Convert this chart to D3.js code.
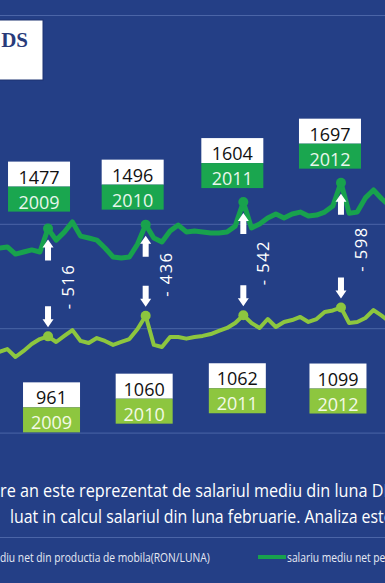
<!DOCTYPE html>
<html><head><meta charset="utf-8">
<script src="https://cdn.jsdelivr.net/npm/d3@7/dist/d3.min.js"></script>
<style>html,body{margin:0;padding:0;overflow:hidden;background:#243F86}svg{display:block}</style>
</head><body>
<script>
// ---------------- data ----------------
const months = ["2009-06","2009-07","2009-08","2009-09","2009-10","2009-11","2009-12",
"2010-01","2010-02","2010-03","2010-04","2010-05","2010-06","2010-07","2010-08","2010-09","2010-10","2010-11","2010-12",
"2011-01","2011-02","2011-03","2011-04","2011-05","2011-06","2011-07","2011-08","2011-09","2011-10","2011-11","2011-12",
"2012-01","2012-02","2012-03","2012-04","2012-05","2012-06","2012-07","2012-08","2012-09","2012-10","2012-11","2012-12",
"2013-01","2013-02","2013-03","2013-04","2013-05","2013-06"];
const economyWage = [1384,1389,1355,1365,1375,1365,1477,
 1422,1460,1509,1441,1432,1422,1384,1341,1336,1341,1403,1496,
 1432,1413,1465,1494,1461,1465,1461,1456,1456,1461,1489,1604,
 1480,1499,1528,1547,1528,1547,1556,1537,1542,1556,1585,1697,
 1551,1556,1624,1662,1620,1585];
const furnitureWage = [886,900,862,891,924,948,961,
 934,963,991,939,929,953,939,920,934,948,996,1060,
 920,910,958,958,950,958,963,972,987,1001,1025,1062,
 1025,1001,1044,1006,1030,1039,1054,1030,1044,1078,1085,1099,
 1025,1030,1049,1087,1060,1030];
const years = ["2009","2010","2011","2012"];
const yTicks = [0,500,1000,1500];
const yMax = 2500;
const seriesNames = ["salariu mediu net din productia de mobila(RON/LUNA)","salariu mediu net pe economie(RON/LUNA)"];
const noteLines = ["re an este reprezentat de salariul mediu din luna DECEMBRIE,","luat in calcul salariul din luna februarie. Analiza este"];
const logoText = "DS";

// ---------------- layout ----------------
const W = 385, H = 583;
const FONT = "'Open Sans','DejaVu Sans',sans-serif";
const COL = {bg:"#243F86", grid:"#4B65A7", dark:"#18A24D", light:"#8DC63F",
  boxDark:"#1AA64F", boxLight:"#8DC63F", yearDark:"#E8F6EC", yearLight:"#F4FAE6", navy:"#283B7A"};
const topNudge = {dx:[-9,-13,-11,-11], gap:[17,15,14,14]};
const lowNudge = {dx:[3.5,-1.5,-6,-3], gap:[46,58,48,56]};

const svg = d3.select("body").append("svg").attr("width", W).attr("height", H);
svg.append("rect").attr("width", W).attr("height", H).attr("fill", COL.bg);

const x = d3.scalePoint().domain(months).range([-0.8, 389.8]);
const y = d3.scaleLinear().domain([0, yMax]).range([537, 15]);

// gridlines + top border
svg.append("g")
  .call(d3.axisRight(y).tickValues(yTicks.concat([yMax])).tickSize(W).tickFormat(""))
  .call(g => g.select(".domain").remove())
  .selectAll("line").attr("stroke", COL.grid).attr("stroke-width", 1);

// logo
svg.append("rect").attr("x", -10).attr("y", 20).attr("width", 53).attr("height", 60)
  .attr("fill", "#fff").attr("stroke", "#1C3271").attr("stroke-width", 1);
svg.append("text").attr("x", 28).attr("y", 47).attr("text-anchor", "end")
  .attr("font-family", "'Liberation Serif',serif").attr("font-weight", "bold").attr("font-size", 21)
  .attr("fill", COL.navy).text(logoText);

// lines
const line = d3.line().x((d, i) => x(months[i])).y(d => y(d));
svg.append("path").datum(furnitureWage).attr("d", line).attr("fill", "none")
  .attr("stroke", COL.light).attr("stroke-width", 4).attr("stroke-linejoin", "round").attr("stroke-linecap", "round");
svg.append("path").datum(economyWage).attr("d", line).attr("fill", "none")
  .attr("stroke", COL.dark).attr("stroke-width", 5).attr("stroke-linejoin", "round").attr("stroke-linecap", "round");

function arrowPath(cx, tipY, up) {
  const s = up ? 1 : -1, hw = 5.5, hl = 8, sw = 3, L = 21;
  const p = d3.path();
  p.moveTo(cx, tipY);
  p.lineTo(cx + hw, tipY + s * hl); p.lineTo(cx + sw, tipY + s * hl);
  p.lineTo(cx + sw, tipY + s * L); p.lineTo(cx - sw, tipY + s * L);
  p.lineTo(cx - sw, tipY + s * hl); p.lineTo(cx - hw, tipY + s * hl);
  p.closePath();
  return p.toString();
}

function box(cx, top, w, value, year, fillCol, yearCol) {
  const g = svg.append("g");
  g.append("rect").attr("x", cx - w / 2).attr("y", top).attr("width", w).attr("height", 25).attr("fill", "#fff");
  g.append("rect").attr("x", cx - w / 2).attr("y", top + 25).attr("width", w).attr("height", 25).attr("fill", fillCol);
  g.append("text").attr("x", cx).attr("y", top + 22).attr("text-anchor", "middle")
    .attr("font-family", FONT).attr("font-size", 18).attr("fill", "#111").text(value);
  g.append("text").attr("x", cx).attr("y", top + 47).attr("text-anchor", "middle")
    .attr("font-family", FONT).attr("font-size", 18).attr("fill", yearCol).text(year);
}

years.forEach((yr, k) => {
  const i = months.indexOf(yr + "-12");
  const cx = x(months[i]);
  const yd = y(economyWage[i]), yl = y(furnitureWage[i]);
  svg.append("circle").attr("cx", cx).attr("cy", yd).attr("r", 5).attr("fill", COL.dark);
  svg.append("circle").attr("cx", cx).attr("cy", yl).attr("r", 5).attr("fill", COL.light);
  svg.append("path").attr("d", arrowPath(cx, yd + 11, true)).attr("fill", "#fff");
  svg.append("path").attr("d", arrowPath(cx, yl - 9, false)).attr("fill", "#fff");
  const mid = (yd + yl) / 2 + 4;
  svg.append("text").attr("transform", `translate(${cx + 26},${mid}) rotate(-90)`)
    .attr("text-anchor", "middle").attr("font-family", FONT).attr("font-size", 16.5)
    .attr("letter-spacing", 1.5).attr("fill", "#fff")
    .text("- " + (economyWage[i] - furnitureWage[i]));
  box(cx + topNudge.dx[k], yd - topNudge.gap[k] - 50, 62, economyWage[i], yr, COL.boxDark, COL.yearDark);
  box(cx + lowNudge.dx[k], yl + lowNudge.gap[k], 57, furnitureWage[i], yr, COL.boxLight, COL.yearLight);
});

// footnote lines, fitted horizontally
function fitted(str, x0, baseline, size, visStart, visEnd, targetW, fill, anchorEnd) {
  const g = svg.append("g");
  const t = g.append("text").attr("font-family", FONT).attr("font-size", size).attr("fill", fill).text(str);
  const w = t.node().getSubStringLength(visStart, visEnd - visStart);
  const s = targetW / w;
  if (anchorEnd) {
    const total = t.node().getComputedTextLength();
    t.attr("x", -total);
  }
  g.attr("transform", `translate(${x0},${baseline}) scale(${s},1)`);
  return s;
}
fitted(noteLines[0], 0, 497, 19, 0, noteLines[0].indexOf("DE"), 372, "#fff", false);
fitted(noteLines[1], 10, 523, 19, 0, noteLines[1].indexOf("est"), 352, "#fff", false);

// legend
const l1 = seriesNames[0];
const sL = fitted(l1, 210, 562, 12, l1.indexOf("diu net"), l1.length, 210, "#E6EAF4", true);
svg.append("line").attr("x1", 258).attr("x2", 286).attr("y1", 557).attr("y2", 557)
  .attr("stroke", COL.dark).attr("stroke-width", 4);
const g2 = svg.append("g").attr("transform", `translate(287,562) scale(${sL},1)`);
g2.append("text").attr("font-family", FONT).attr("font-size", 12).attr("fill", "#E6EAF4").text(seriesNames[1]);
</script>
</body></html>
